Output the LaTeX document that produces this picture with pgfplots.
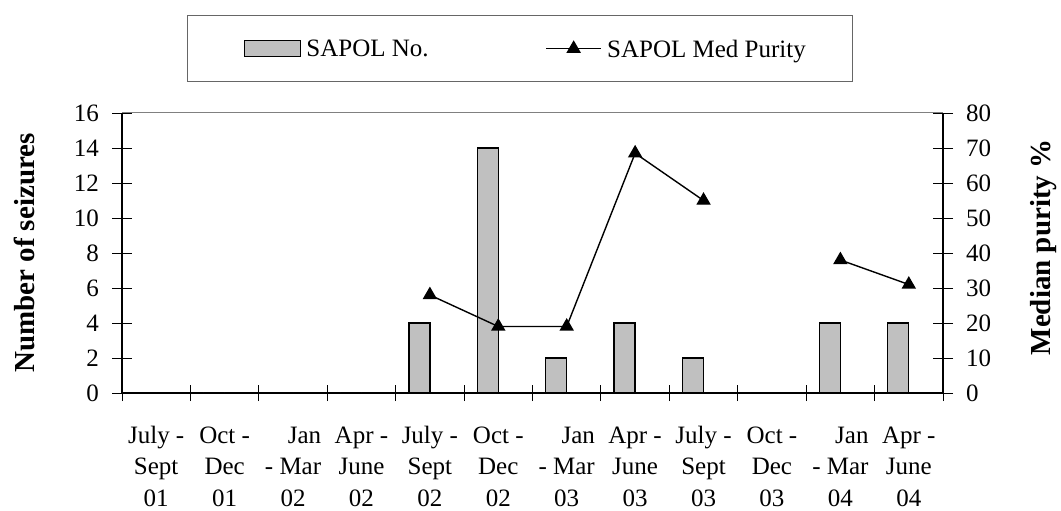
\documentclass[border=0pt]{standalone}
\usepackage{pgfplots}
\pgfplotsset{compat=1.18}
\usepackage{fontspec}
\setmainfont{Liberation Serif}
\definecolor{barfill}{HTML}{C0C0C0}
\begin{document}
\begin{tikzpicture}[x=1pt,y=1pt]
\useasboundingbox (-122,-118) rectangle (939,393);
\pgfplotsset{
  myaxis/.style={
    at={(0,0)}, anchor=south west,
    scale only axis, width=821pt, height=280pt,
    xmin=-0.5, xmax=11.5, ymin=0,
    font=\fontsize{25}{32}\selectfont,
    /pgf/number format/assume math mode=true,
    major tick length=20pt, minor tick length=16pt,
    tick style={black, line width=0.9pt},
    axis line style={black, line width=1.3pt},
  }
}
\begin{axis}[myaxis,
  ymax=16,
  axis x line*=bottom, axis y line*=left,
  tick align=center,
  ytick={0,2,...,16},
  xtick={0,...,11},
  xticklabels={{July -\\Sept\\01},{Oct -\\Dec\\01},{\hspace*{0.92em}Jan\\- Mar\\02},{Apr -\\June\\02},
               {July -\\Sept\\02},{Oct -\\Dec\\02},{\hspace*{0.92em}Jan\\- Mar\\03},{Apr -\\June\\03},
               {July -\\Sept\\03},{Oct -\\Dec\\03},{\hspace*{0.92em}Jan\\- Mar\\04},{Apr -\\June\\04}},
  minor xtick={-0.5,0.5,1.5,2.5,3.5,4.5,5.5,6.5,7.5,8.5,9.5,10.5,11.5},
  every major x tick/.append style={draw=none},
  xticklabel style={align=center, anchor=north, inner sep=0pt, text height=20pt,
    font=\fontsize{25}{31.5}\selectfont, yshift=-83pt},
  yticklabel style={anchor=east, inner sep=0pt, xshift=-13pt},
  ylabel={Number of seizures},
  ylabel style={font=\fontsize{29}{32}\selectfont\bfseries, at={(axis description cs:-0.106,0.5)}, anchor=south, inner sep=0pt},
]
\addplot[ybar, bar width=21pt, bar shift=-10.5pt, fill=barfill, draw=black, line width=1.4pt]
  coordinates {(0,0) (1,0) (2,0) (3,0) (4,4) (5,14) (6,2) (7,4) (8,2) (9,0) (10,4) (11,4)};
\draw[black!50, line width=1pt] (rel axis cs:0,1) -- (rel axis cs:1,1);
\end{axis}
\begin{axis}[myaxis,
  ymax=80,
  axis x line=none, axis y line*=right,
  tick align=center,
  ytick={0,10,...,80},
  yticklabel style={anchor=west, inner sep=0pt, xshift=13pt},
  unbounded coords=jump,
  ylabel={Median purity \%},
  ylabel style={font=\fontsize{29}{32}\selectfont\bfseries, at={(axis description cs:1.106,0.52)}, anchor=north, inner sep=0pt},
  legend columns=2,
  legend style={at={(0.0792,1.35)}, anchor=north west, draw=black!60, line width=0.9pt,
    inner xsep=47pt, inner ysep=24.5pt, font=\fontsize{25}{30}\selectfont,
    nodes={inner sep=0pt, text depth=0pt}, cells={anchor=west}},
]
\addlegendimage{legend image code/.code={
  \path[draw=none, fill=none] (0pt,-8pt) rectangle (72pt,8pt);
  \draw[fill=barfill, draw=black, line width=1.4pt] (10pt,-8pt) rectangle (66pt,8pt);}}
\addlegendentry{\makebox[239pt][l]{SAPOL No.}}
\addplot[black, line width=1.4pt, mark=triangle*, mark size=7pt, mark options={solid, fill=black},
  legend image code/.code={
    \path[draw=none, fill=none] (0pt,0pt) -- (61pt,0pt);
    \draw[black, line width=1.4pt] (0pt,0pt) -- (55pt,0pt);
    \draw[black, fill=black, mark size=7pt] plot[mark=triangle*] coordinates {(27.5pt,0pt)};}]
  coordinates {(4,28) (5,19) (6,19) (7,68.5) (8,55) (9,nan) (10,38) (11,31)};
\addlegendentry{SAPOL Med Purity}
\end{axis}
\end{tikzpicture}
\end{document}
